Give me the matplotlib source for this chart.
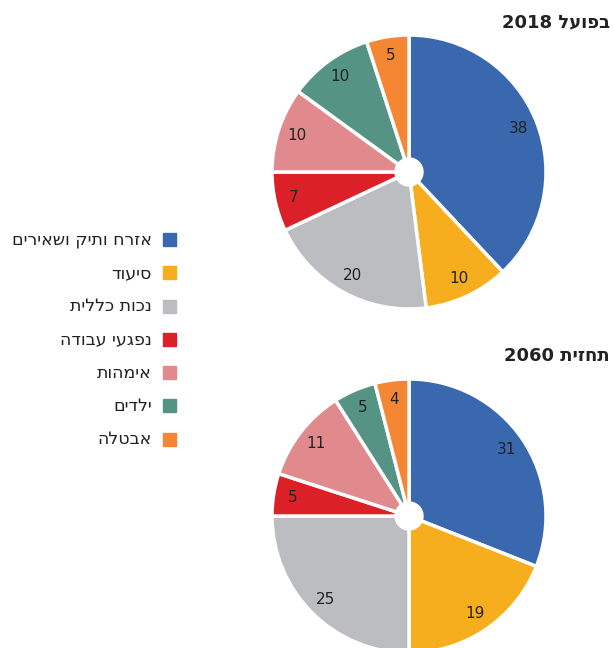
import numpy as np
import matplotlib.pyplot as plt
from matplotlib.patches import Rectangle, Circle

plt.rcParams['font.family'] = ['DejaVu Sans']

# data
categories = ["אזרח ותיק ושאירים", "סיעוד", "נכות כללית", "נפגעי עבודה",
              "אימהות", "ילדים", "אבטלה"]
colors = ["#3a68ae", "#f7ae1e", "#bcbdc0", "#dc2028", "#e08a8e", "#559485", "#f58634"]
values_2018 = [38, 10, 20, 7, 10, 10, 5]
values_2060 = [31, 19, 25, 5, 11, 5, 4]
titles = ["בפועל 2018", "תחזית 2060"]


def vis(s):
    # matplotlib has no bidi support: put Hebrew in visual order
    parts = s.split(" ")
    out = []
    for p in reversed(parts):
        out.append(p if p.isdigit() else p[::-1])
    return " ".join(out)


W, H = 614, 648
fig = plt.figure(figsize=(W / 100, H / 100), dpi=100)
ax = fig.add_axes([0, 0, 1, 1])

R = 137
centers = [(409, 172), (409, 516)]
for vals, (cx, cy), title, ty in zip([values_2018, values_2060], centers, titles, [22, 356]):
    # y axis is inverted, so counterclock=True draws clockwise on screen
    ax.pie(vals, colors=colors, startangle=-90, counterclock=True,
           radius=R, center=(cx, cy), frame=True,
           wedgeprops=dict(edgecolor='white', linewidth=2.5))
    ax.add_patch(Circle((cx, cy), 14, color='white', zorder=5))
    total = sum(vals)
    cum = 0
    for v in vals:
        mid = np.deg2rad(90 - (cum + v / 2) / total * 360)
        cum += v
        ax.text(cx + 0.86 * R * np.cos(mid), cy - 0.86 * R * np.sin(mid), str(v),
                ha='center', va='center', fontsize=11, color='#222222')
    ax.text(610, ty, vis(title), ha='right', va='center', fontsize=13,
            fontweight='bold', color='#222222')

ax.set_xlim(0, W)
ax.set_ylim(H, 0)
ax.set_aspect('auto')
ax.axis('off')

for i, (cat, col) in enumerate(zip(categories, colors)):
    y = 239.5 + i * 33.25
    ax.add_patch(Rectangle((163, y - 6.5), 13, 13, color=col))
    ax.text(152, y, vis(cat), ha='right', va='center', fontsize=12.5, color='#222222')

fig.savefig("out.png", dpi=100)
